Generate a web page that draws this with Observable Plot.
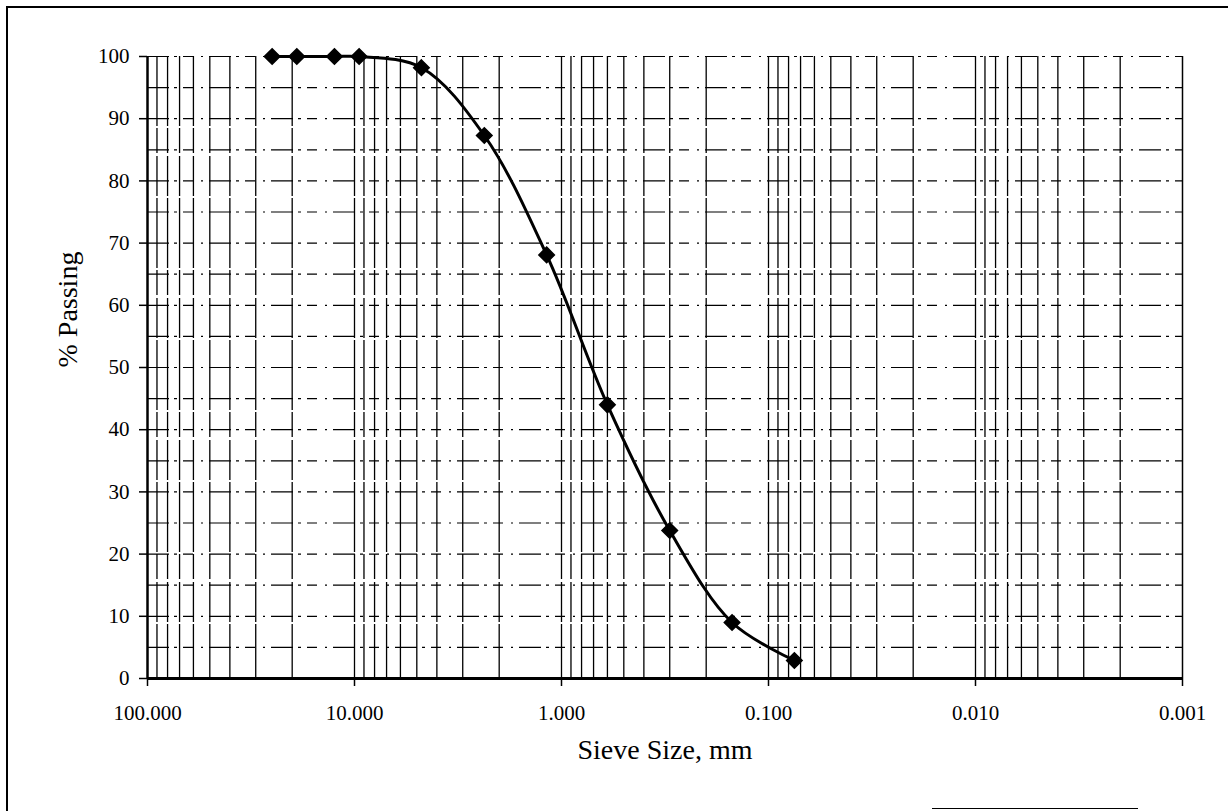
<!DOCTYPE html>
<html><head><meta charset="utf-8">
<script src="https://cdn.jsdelivr.net/npm/d3@7"></script>
<script src="https://cdn.jsdelivr.net/npm/@observablehq/plot@0.6"></script>
<style>
html,body{margin:0;padding:0;background:#fff;overflow:hidden;}
#wrap{position:relative;width:1228px;height:811px;overflow:hidden;}
#chart{position:absolute;left:0;top:0;}
#border{position:absolute;left:6px;top:6px;width:1240px;height:820px;border-left:2px solid #000;border-top:2px solid #000;box-sizing:border-box;pointer-events:none;}
#bline{position:absolute;left:932px;top:808px;width:206px;height:0;border-top:1.5px solid #000;}
</style></head><body>
<div id="wrap"><div id="chart"></div><div id="border"></div><div id="bline"></div></div>
<script>
// Sieve analysis data
const sieveSizes = [25, 19, 12.5, 9.5, 4.75, 2.36, 1.18, 0.6, 0.3, 0.15, 0.075];
const percentPassing = [100, 100, 100, 100, 98.2, 87.3, 68.1, 44.0, 23.8, 9.0, 2.9];

// Axis ticks
const xTicks = [100, 10, 1, 0.1, 0.01, 0.001];
const yTicks = [0, 10, 20, 30, 40, 50, 60, 70, 80, 90, 100];

// Grid lines
const yGrid = [5, 10, 15, 20, 25, 30, 35, 40, 45, 50, 55, 60, 65, 70, 75, 80, 85, 90, 95, 100];
const gridDecades = [10, 1, 0.1, 0.01, 0.001];
const gridMultipliers = [1, 2, 3, 4, 5, 6, 7, 8, 9];

const xLabel = "Sieve Size, mm";
const yLabel = "% Passing";

const data = sieveSizes.map((s, i) => ({size: s, pct: percentPassing[i]}));
const vGrid = gridDecades.flatMap(d => gridMultipliers.map(m => +(m * d).toPrecision(6)))
  .filter(v => v > 0.001 && v < 100);

const chart = Plot.plot({
  width: 1228,
  height: 811,
  marginLeft: 147,
  marginRight: 46,
  marginTop: 56,
  marginBottom: 133,
  style: {fontFamily: "'Liberation Serif', 'DejaVu Serif', serif", fontSize: "21px", color: "#000", background: "transparent"},
  x: {type: "log", domain: [100, 0.001]},
  y: {domain: [0, 100]},
  marks: [
    Plot.ruleX(vGrid, {stroke: "#000", strokeWidth: 1.3, strokeDasharray: "70,2,25,3,40,2"}),
    Plot.ruleY(yGrid, {stroke: "#000", strokeWidth: 1.2, strokeDasharray: "22,5,3,6,10,8,2,6"}),
    Plot.ruleX([0.001], {stroke: "#000", strokeWidth: 1.5}),
    Plot.ruleX([100], {stroke: "#000", strokeWidth: 2.5}),
    Plot.ruleY([0], {stroke: "#000", strokeWidth: 3}),
    Plot.axisY({ticks: yTicks, tickSize: 8, tickPadding: 10, label: null, fontSize: 21, strokeWidth: 1.5}),
    Plot.axisX({ticks: xTicks, tickFormat: d => d.toFixed(3), tickSize: 8, tickPadding: 19, label: null, fontSize: 21, strokeWidth: 1.5}),
    Plot.line(data, {x: "size", y: "pct", curve: "catmull-rom", stroke: "#000", strokeWidth: 3}),
    Plot.dot(data, {x: "size", y: "pct", symbol: "diamond2", r: 7, fill: "#000", stroke: "#000", strokeWidth: 1.5}),
    Plot.text([xLabel], {frameAnchor: "bottom", dy: 80, fontSize: 28, fill: "#000"}),
    Plot.text([yLabel], {frameAnchor: "left", dx: -79, rotate: -90, fontSize: 28, fill: "#000"})
  ]
});
document.getElementById("chart").appendChild(chart);
</script>
</body></html>
